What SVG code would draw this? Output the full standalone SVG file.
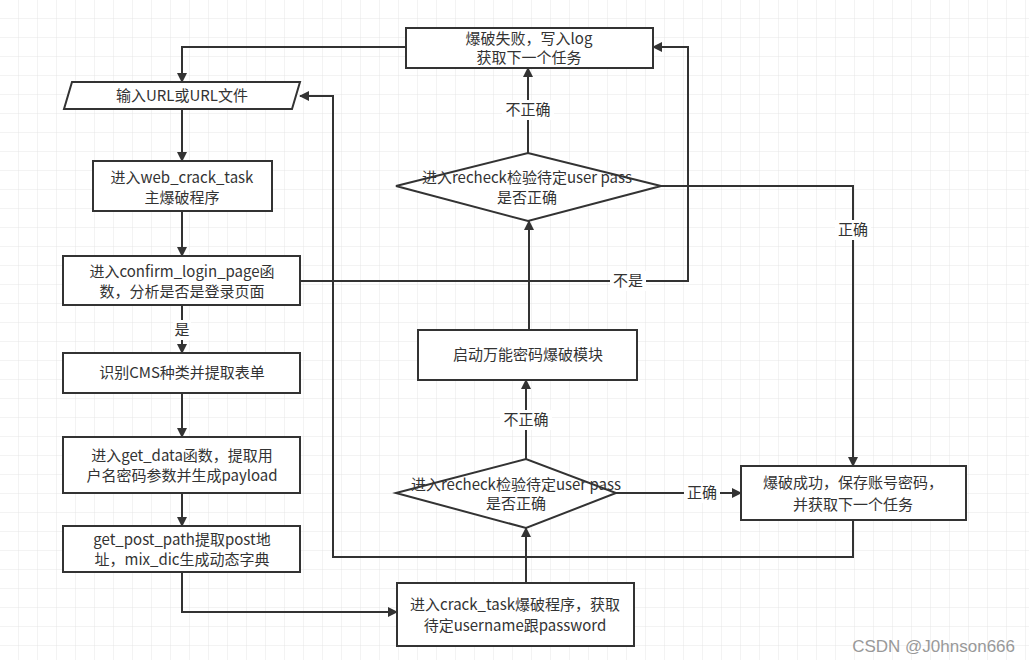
<svg xmlns="http://www.w3.org/2000/svg" width="1029" height="667" viewBox="0 0 1029 667">
<defs>
<pattern id="g" width="19" height="19" patternUnits="userSpaceOnUse"><path d="M19 0V19H0" fill="none" stroke="#e6e6e6" stroke-width="1"/></pattern>
<marker id="a" viewBox="0 0 10 10" refX="9" refY="5" markerWidth="5" markerHeight="5" orient="auto"><path d="M0 0L10 5L0 10Z" fill="#333"/></marker>
<style>
.n{fill:#fff;stroke:#333;stroke-width:2}
.c{fill:none;stroke:#333;stroke-width:2;marker-end:url(#a)}
.l{fill:none;stroke:#333;stroke-width:2}
text{font-family:"Noto Sans CJK SC","Liberation Sans",sans-serif;font-size:15px;fill:#333;text-anchor:middle}
.lb{fill:#fff}
</style>
</defs>
<rect width="1029" height="667" fill="#fff"/>
<rect width="1029" height="660" fill="url(#g)"/>
<g id="connectors">
<path class="c" d="M406 47H182V82"/>
<path class="c" d="M182 109V161"/>
<path class="c" d="M182 211V256"/>
<path class="c" d="M182 305V353"/>
<path class="c" d="M182 393V437"/>
<path class="c" d="M182 493V526"/>
<path class="c" d="M182 572V612H397"/>
<path class="c" d="M526 583V528"/>
<path class="c" d="M526 459V380"/>
<path class="c" d="M529 330V221"/>
<path class="c" d="M528 153V68"/>
<path class="c" d="M616 493H741"/>
<path class="c" d="M661 186H853V466"/>
<path class="c" d="M300 281H688V47H653"/>
<path class="c" d="M853 520V557H333V96H300"/>
<rect class="lb" x="173" y="320" width="18" height="20"/><text x="182" y="335">是</text>
<rect class="lb" x="502" y="100" width="52" height="20"/><text x="528" y="115">不正确</text>
<rect class="lb" x="500" y="410" width="52" height="20"/><text x="526" y="425">不正确</text>
<rect class="lb" x="610" y="271" width="36" height="20"/><text x="628" y="286">不是</text>
<rect class="lb" x="835" y="220" width="36" height="20"/><text x="853" y="235">正确</text>
<rect class="lb" x="684" y="483" width="36" height="20"/><text x="702" y="498">正确</text>
</g>
<g id="fail"><rect class="n" x="406" y="28" width="247" height="40"/><text x="529" y="44">爆破失败，写入log</text><text x="529" y="63">获取下一个任务</text></g>
<g id="input"><path class="n" d="M72 82H300L292 109H64Z"/><text x="182" y="101">输入URL或URL文件</text></g>
<g id="web"><rect class="n" x="93" y="161" width="179" height="50"/><text x="182" y="183">进入web_crack_task</text><text x="182" y="203">主爆破程序</text></g>
<g id="confirm"><rect class="n" x="63" y="256" width="237" height="49"/><text x="182" y="277">进入confirm_login_page函</text><text x="182" y="297">数，分析是否是登录页面</text></g>
<g id="cms"><rect class="n" x="63" y="353" width="237" height="40"/><text x="182" y="378">识别CMS种类并提取表单</text></g>
<g id="getdata"><rect class="n" x="63" y="437" width="237" height="56"/><text x="182" y="461">进入get_data函数，提取用</text><text x="182" y="481">户名密码参数并生成payload</text></g>
<g id="postpath"><rect class="n" x="63" y="526" width="237" height="46"/><text x="182" y="545">get_post_path提取post地</text><text x="182" y="565">址，mix_dic生成动态字典</text></g>
<g id="crack"><rect class="n" x="397" y="583" width="237" height="63"/><text x="515" y="610">进入crack_task爆破程序，获取</text><text x="515" y="631">待定username跟password</text></g>
<g id="d2"><path class="n" d="M396 493L526 459L616 493L526 528Z"/><text x="516" y="490">进入recheck检验待定user pass</text><text x="516" y="509">是否正确</text></g>
<g id="wanneng"><rect class="n" x="418" y="330" width="219" height="50"/><text x="528" y="360">启动万能密码爆破模块</text></g>
<g id="d1"><path class="n" d="M396 186L528 153L661 186L528 221Z"/><text x="527" y="183">进入recheck检验待定user pass</text><text x="527" y="203">是否正确</text></g>
<g id="success"><rect class="n" x="741" y="466" width="225" height="54"/><text x="853" y="488">爆破成功，保存账号密码，</text><text x="853" y="510">并获取下一个任务</text></g>
<text x="1015" y="652" style="text-anchor:end;fill:#999;font-size:17px;font-family:'Liberation Sans',sans-serif">CSDN @J0hnson666</text>
</svg>
